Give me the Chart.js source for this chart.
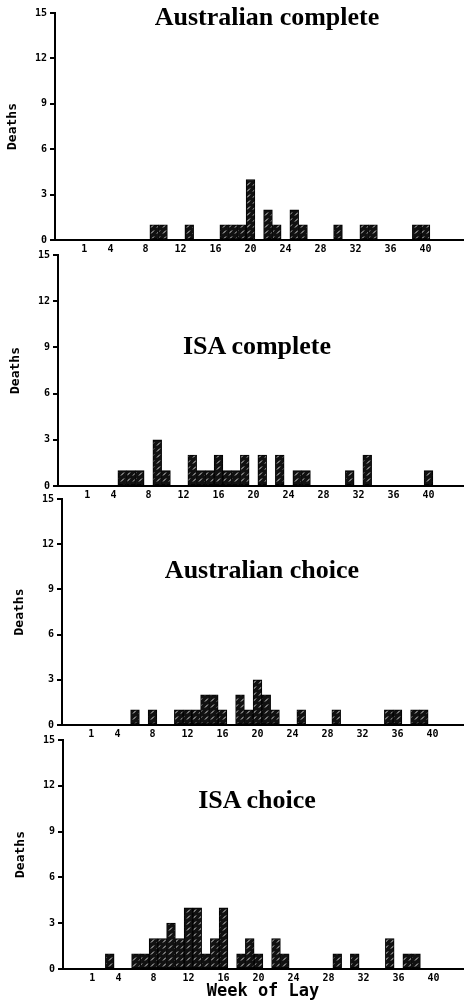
<!DOCTYPE html>
<html lang="en">
<head>
    <meta charset="UTF-8">
    <title>Deaths by Week of Lay</title>
    <script src="https://cdn.jsdelivr.net/npm/chart.js"></script>
    <style>
        body {
            margin: 0;
            width: 469px;
            height: 1002px;
            background: #fff;
            position: relative;
            overflow: hidden;
        }
        canvas {
            position: absolute;
            left: 0;
        }
        .panel-title {
            position: absolute;
            transform: translateX(-50%);
            white-space: nowrap;
            font-family: "Liberation Serif", "Times New Roman", serif;
            font-weight: bold;
            font-size: 26px;
            line-height: 26px;
            color: #000;
        }
    </style>
</head>
<body>
    <canvas id="c1"></canvas>
    <canvas id="c2"></canvas>
    <canvas id="c3"></canvas>
    <canvas id="c4"></canvas>
    <div class="panel-title" id="t1">Australian complete</div>
    <div class="panel-title" id="t2">ISA complete</div>
    <div class="panel-title" id="t3">Australian choice</div>
    <div class="panel-title" id="t4">ISA choice</div>
    <script>
        // tick labels
        const xTicks = [1, 4, 8, 12, 16, 20, 24, 28, 32, 36, 40];
        const yTicks = [0, 3, 6, 9, 12, 15];

        // Australian complete
        const auCompleteWeeks  = [9, 10, 13, 17, 18, 19, 20, 22, 23, 25, 26, 30, 33, 34, 39, 40];
        const auCompleteDeaths = [1, 1, 1, 1, 1, 1, 4, 2, 1, 2, 1, 1, 1, 1, 1, 1];

        // ISA complete
        const isaCompleteWeeks  = [5, 6, 7, 9, 10, 13, 14, 15, 16, 17, 18, 19, 21, 23, 25, 26, 31, 33, 40];
        const isaCompleteDeaths = [1, 1, 1, 3, 1, 2, 1, 1, 2, 1, 1, 2, 2, 2, 1, 1, 1, 2, 1];

        // Australian choice
        const auChoiceWeeks  = [6, 8, 11, 12, 13, 14, 15, 16, 18, 19, 20, 21, 22, 25, 29, 35, 36, 38, 39];
        const auChoiceDeaths = [1, 1, 1, 1, 1, 2, 2, 1, 2, 1, 3, 2, 1, 1, 1, 1, 1, 1, 1];

        // ISA choice
        const isaChoiceWeeks  = [3, 6, 7, 8, 9, 10, 11, 12, 13, 14, 15, 16, 18, 19, 20, 22, 23, 29, 31, 35, 37, 38];
        const isaChoiceDeaths = [1, 1, 1, 2, 2, 3, 2, 4, 4, 1, 2, 4, 1, 2, 1, 2, 1, 1, 1, 2, 1, 1];

        // hatched fill like the printed bars
        function hatch() {
            const t = document.createElement('canvas');
            t.width = 6; t.height = 6;
            const g = t.getContext('2d');
            g.fillStyle = '#111';
            g.fillRect(0, 0, 6, 6);
            g.strokeStyle = 'rgba(240,240,240,0.9)';
            g.lineWidth = 1;
            g.beginPath();
            g.moveTo(1, 5.5);
            g.lineTo(4, 2.5);
            g.stroke();
            return g.createPattern(t, 'repeat');
        }
        const fill = hatch();

        const PX_WEEK = 8.75;
        const tickFont = { family: "'DejaVu Sans Mono', monospace", weight: 'bold', size: 10 };

        // canvas top, y-axis x, plot top/bottom, title centre and baseline
        const panels = [
            { id: 'c1', t: 't1', weeks: auCompleteWeeks,  deaths: auCompleteDeaths,  axisX: 55, top: 13,  base: 240, tx: 267, tb: 26 },
            { id: 'c2', t: 't2', weeks: isaCompleteWeeks, deaths: isaCompleteDeaths, axisX: 58, top: 255, base: 486, tx: 257, tb: 355 },
            { id: 'c3', t: 't3', weeks: auChoiceWeeks,    deaths: auChoiceDeaths,    axisX: 62, top: 499, base: 725, tx: 262, tb: 579 },
            { id: 'c4', t: 't4', weeks: isaChoiceWeeks,   deaths: isaChoiceDeaths,   axisX: 63, top: 740, base: 969, tx: 257, tb: 809, last: true }
        ];

        panels.forEach(p => {
            const right = 463;
            const xH = p.last ? 33 : 17;
            const cTop = p.top - 13;
            const cH = p.base + xH - cTop;
            const cv = document.getElementById(p.id);
            cv.width = 469; cv.height = cH;
            cv.style.top = cTop + 'px';
            cv.style.width = '469px'; cv.style.height = cH + 'px';

            const tl = document.getElementById(p.t);
            tl.style.left = p.tx + 'px';
            tl.style.top = (p.tb - 22) + 'px';

            const xMin = -20.5 / PX_WEEK;
            const xMax = xMin + (right - p.axisX) / PX_WEEK;

            new Chart(cv.getContext('2d'), {
                type: 'bar',
                data: {
                    datasets: [{
                        data: p.weeks.map((w, i) => ({ x: w, y: p.deaths[i] })),
                        backgroundColor: fill,
                        borderColor: '#000',
                        borderWidth: 1,
                        borderSkipped: false,
                        barPercentage: 1,
                        categoryPercentage: 1
                    }]
                },
                options: {
                    responsive: false,
                    animation: false,
                    devicePixelRatio: 1,
                    layout: { padding: { top: 13, left: p.axisX - 50, right: 469 - right, bottom: 0 } },
                    plugins: { legend: { display: false }, tooltip: { enabled: false } },
                    scales: {
                        x: {
                            type: 'linear',
                            offset: false,
                            min: xMin,
                            max: xMax,
                            afterBuildTicks: s => { s.ticks = xTicks.map(v => ({ value: v })); },
                            afterFit: s => { s.height = xH; },
                            border: { display: true, color: '#000', width: 2 },
                            grid: { display: false, drawTicks: false },
                            ticks: { color: '#000', font: tickFont, padding: 3, autoSkip: false, maxRotation: 0 },
                            title: {
                                display: !!p.last,
                                text: 'Week of Lay',
                                color: '#000',
                                padding: 0,
                                font: { family: "'DejaVu Sans Mono', monospace", weight: 'bold', size: 17 }
                            }
                        },
                        y: {
                            min: 0,
                            max: 15,
                            afterBuildTicks: s => { s.ticks = yTicks.map(v => ({ value: v })); },
                            afterFit: s => { s.width = 50; },
                            border: { display: true, color: '#000', width: 2 },
                            grid: { display: true, drawOnChartArea: false, drawTicks: true, tickLength: 5, color: '#000', lineWidth: 2 },
                            ticks: { color: '#000', font: tickFont, padding: 3 },
                            title: {
                                display: true,
                                text: 'Deaths',
                                color: '#000',
                                padding: { top: 0, bottom: 2 },
                                font: { family: "'DejaVu Sans Mono', monospace", weight: 'bold', size: 13 }
                            }
                        }
                    }
                }
            });
        });
    </script>
</body>
</html>
